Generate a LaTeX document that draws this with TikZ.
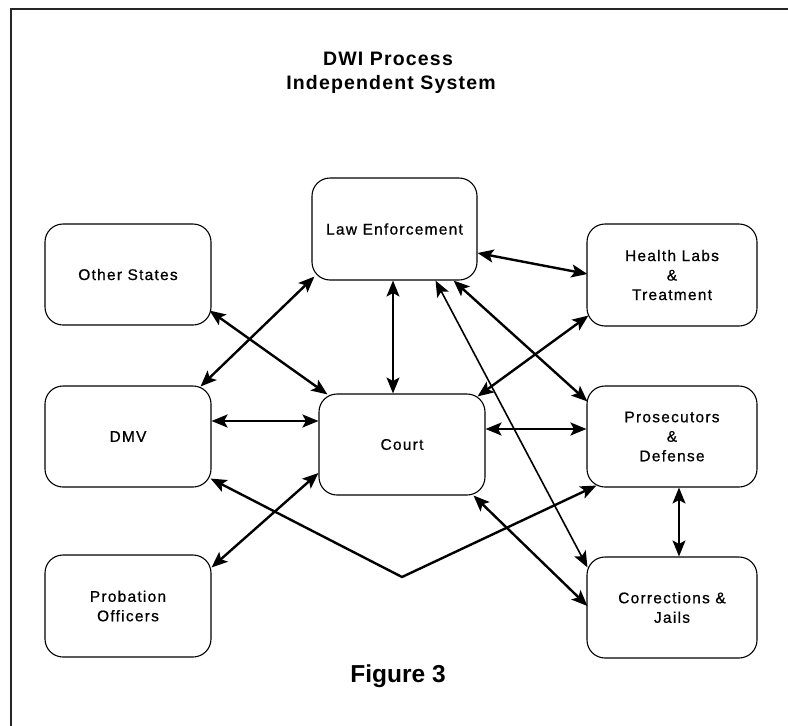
\documentclass[tikz,border=0pt]{standalone}
\usepackage{fontspec}
\setmainfont{Liberation Sans}
\newfontfamily\lblfont[LetterSpace=8,FakeBold=0.7]{Liberation Sans}
\newfontfamily\ttlfont[LetterSpace=6]{Liberation Sans}
\usetikzlibrary{arrows.meta,calc}

\tikzset{
  unit/.style={x=1pt,y=-1pt},
  box/.style={draw, line width=1.1pt, rounded corners=18pt, align=center,
    minimum width=166pt, minimum height=101pt, inner sep=0pt,
    font=\lblfont\fontsize{15.5}{19.5}\selectfont},
  wbox/.style={box, minimum width=170pt},
  tip/.tip={Stealth[length=16pt,width=13pt,inset=3.5pt]},
  conn/.style={line width=2.4pt, line join=round, tip-tip},
  thinconn/.style={conn, line width=1.6pt},
  frame/.style={line width=1.3pt, black!85},
  heading/.style={font=\ttlfont\bfseries\fontsize{19.5}{24}\selectfont, anchor=base, inner sep=0pt},
  caption/.style={font=\bfseries\fontsize{24.5}{28}\selectfont, anchor=base, inner sep=0pt}
}

\begin{document}
\begin{tikzpicture}[unit]
\useasboundingbox (0,0) rectangle (788,726);

% page frame (top and left rules)
\draw[frame] (11,726) -- (11,9) -- (788,9);

% title
\node[heading] (title1) at (388,65) {DWI Process};
\node[heading] (title2) at (391,89) {Independent System};

% agencies
\node[box]  (le)  at (394.5,229)  [minimum width=165pt,minimum height=102pt] {Law Enforcement};
\node[box]  (os)  at (128,274.5)  {Other States};
\node[box]  (dmv) at (128,436.5)  {DMV};
\node[box]  (pro) at (128,606)    [minimum height=102pt] {Probation\\Officers};
\node[box]  (ct)  at (402,444.5)  {Court};
\node[wbox] (hl)  at (672,275)    [minimum height=102pt] {Health Labs\\\&\\Treatment};
\node[wbox] (pd)  at (672,436.5)  {Prosecutors\\\&\\Defense};
\node[wbox] (cj)  at (672,607.5)  {Corrections \&\\Jails};

% caption
\node[caption] (fig) at (398,682) {Figure 3};

% bend point of the DMV -- prosecutors link
\coordinate (v) at (402,577);

% links
\draw[conn] ($(le.south west)+(3,-4)$) -- ($(dmv.north east)+(-11,1)$);
\draw[conn] ($(os.south east)+(-2,-15)$) -- ($(ct.north west)+(9,1)$);
\draw[thinconn] ($(le.south)+(-1.5,0)$) coordinate (a3) -- (a3 |- ct.north);
\draw[conn] ($(dmv.east)+(0,-15.5)$) coordinate (a4) -- (a4 -| ct.west);
\draw[conn] ($(le.east)+(0,24)$) -- ($(hl.west)+(1,-1)$);
\draw[conn] ($(hl.south west)+(2,-11)$) -- ($(ct.north east)+(-8,3)$);
\draw[conn] ($(le.south east)+(-24,0)$) -- ($(pd.north west)+(1,16)$);
\draw[thinconn] ($(le.south east)+(-42,0)$) -- ($(cj.north west)+(1,11)$);
\draw[conn] ($(ct.east)+(0,-15.5)$) coordinate (a9) -- (a9 -| pd.west);
\draw[conn] ($(ct.south east)+(-12,0)$) -- ($(cj.west)+(1,-1.5)$);
\draw[thinconn] ($(pd.south)+(7,0)$) coordinate (a11) -- (a11 |- cj.north);
\draw[conn] ($(dmv.south east)+(-1,-9)$) -- (v) -- ($(pd.south west)+(10,-2)$);
\draw[conn] ($(pro.north east)+(0,13)$) -- ($(ct.west)+(0,28.5)$);
\end{tikzpicture}
\end{document}
